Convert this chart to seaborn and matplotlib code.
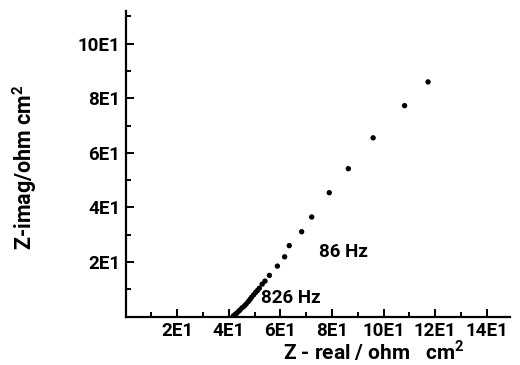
import matplotlib
matplotlib.use("Agg")
import matplotlib.pyplot as plt
import seaborn as sns
import pandas as pd
from matplotlib.ticker import MultipleLocator, FixedLocator

z_real = [41.7, 42.4, 43.0, 43.7, 44.3, 45.1, 46.0, 46.7, 47.5, 48.2, 48.8, 49.6,
          50.4, 51.1, 51.8, 52.9, 54.0, 55.7, 58.8, 61.6, 63.4, 68.2, 72.1, 78.9,
          86.3, 95.9, 108.1, 117.2]
z_imag = [0.2, 0.8, 1.2, 1.9, 2.4, 3.2, 3.9, 4.6, 5.5, 6.3, 7.1, 8.0,
          8.9, 9.6, 10.4, 11.9, 13.0, 15.1, 18.5, 21.9, 26.0, 31.1, 36.5, 45.4,
          54.2, 65.5, 77.3, 86.0]
x_ticks = [20, 40, 60, 80, 100, 120, 140]
x_tick_labels = ["2E1", "4E1", "6E1", "8E1", "10E1", "12E1", "14E1"]
y_ticks = [20, 40, 60, 80, 100]
y_tick_labels = ["2E1", "4E1", "6E1", "8E1", "10E1"]
annotations = [("86 Hz", 74.9, 23.7), ("826 Hz", 52.4, 6.8)]

sns.set_style("ticks")
plt.rcParams['font.family'] = ['Roboto', 'DejaVu Sans']
plt.rcParams['text.color'] = 'black'
plt.rcParams['axes.labelcolor'] = 'black'

df = pd.DataFrame({"x": z_real, "y": z_imag})

fig = plt.figure(figsize=(5.2, 3.65), dpi=100)
ax = fig.add_axes([0.2417, 0.1326, 0.981 - 0.2417, 0.970 - 0.1326])
sns.scatterplot(data=df, x="x", y="y", ax=ax, color="black", s=15,
                edgecolor="none", legend=False)

ax.set_xlim(0, 149)
ax.set_ylim(0, 112)
ax.xaxis.set_major_locator(FixedLocator(x_ticks))
ax.set_xticklabels(x_tick_labels)
ax.yaxis.set_major_locator(FixedLocator(y_ticks))
ax.set_yticklabels(y_tick_labels)
ax.xaxis.set_minor_locator(MultipleLocator(10))
ax.yaxis.set_minor_locator(MultipleLocator(10))

for sp in ["top", "right"]:
    ax.spines[sp].set_visible(False)
for sp in ["left", "bottom"]:
    ax.spines[sp].set_linewidth(1.6)
    ax.spines[sp].set_color("black")

ax.tick_params(which="major", direction="in", length=6, width=1.4, colors="black",
               labelsize=13.5, pad=4)
ax.tick_params(which="minor", direction="in", length=3.5, width=1.4, colors="black")
for lab in ax.get_xticklabels() + ax.get_yticklabels():
    lab.set_fontweight("bold")

ax.set_xlabel("Z - real / ohm   cm$^{\\mathregular{2}}$", fontsize=15,
              fontweight="bold")
ax.xaxis.set_label_coords(0.645, -0.072)
ax.set_ylabel("Z-imag/ohm cm$^{\\mathregular{2}}$", fontsize=15.5, fontweight="bold")
ax.yaxis.set_label_coords(-0.225, 0.49)

for txt, xx, yy in annotations:
    ax.text(xx, yy, txt, fontsize=13.5, fontweight="bold", ha="left", va="center")

fig.savefig("out.png", dpi=100)
